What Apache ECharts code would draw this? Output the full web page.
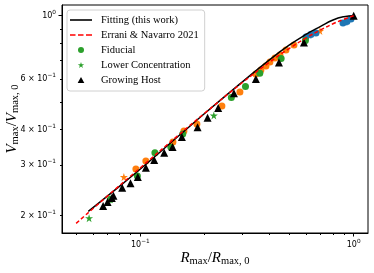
<!DOCTYPE html>
<html><head><meta charset="utf-8">
<script src="https://cdn.jsdelivr.net/npm/echarts@6/dist/echarts.min.js"></script>
<style>html,body{margin:0;padding:0;background:#fff}#c{width:374px;height:273px}</style>
</head><body><div id="c"></div><script>
// ---- data ----
const fitR = [0.057, 0.07, 0.1, 0.15, 0.2, 0.3, 0.4, 0.5, 0.6, 0.7, 0.8, 0.9, 1.0];
const fitV = [0.207, 0.234, 0.291, 0.378, 0.455, 0.586, 0.698, 0.79, 0.862, 0.918, 0.966, 0.992, 1.0];
const enR = [0.05, 0.07, 0.1, 0.15, 0.2, 0.3, 0.4, 0.5, 0.6, 0.7, 0.8, 0.9, 1.0];
const enV = [0.188, 0.234, 0.294, 0.381, 0.456, 0.583, 0.685, 0.769, 0.837, 0.892, 0.937, 0.972, 1.0];
const fidR = [0.0725, 0.0968, 0.117, 0.139, 0.158, 0.267, 0.311, 0.363, 0.457, 0.594];
const fidV = [0.228, 0.275, 0.332, 0.347, 0.386, 0.518, 0.566, 0.629, 0.709, 0.819];
const lowR = [0.0575, 0.0723, 0.221];
const lowV = [0.196, 0.228, 0.448];
const growR = [0.0669, 0.0702, 0.0735, 0.0748, 0.0822, 0.0899, 0.0973, 0.1061, 0.1161, 0.1293, 0.1416, 0.1565, 0.1854, 0.2066, 0.2317, 0.2746, 0.3479, 0.4463, 0.5846, 1.0];
const growV = [0.216, 0.223, 0.2305, 0.2348, 0.2504, 0.2594, 0.2729, 0.294, 0.313, 0.3319, 0.3474, 0.3765, 0.4073, 0.4398, 0.4757, 0.5354, 0.6006, 0.686, 0.8058, 1.0];
const orCircR = [0.0953, 0.1061, 0.1421, 0.16, 0.1841, 0.2411, 0.2929, 0.3479, 0.3673, 0.3879, 0.4049, 0.4275, 0.4512, 0.4814, 0.5248];
const orCircV = [0.2911, 0.3104, 0.3618, 0.3953, 0.4182, 0.4834, 0.541, 0.6254, 0.6458, 0.667, 0.6889, 0.7113, 0.7288, 0.7587, 0.79];
const orStarR = [0.0837, 0.695];
const orStarV = [0.2729, 0.8841];
const blCircR = [0.5975, 0.6305, 0.6655, 0.891, 0.93, 0.971];
const blCircV = [0.8423, 0.8597, 0.87, 0.943, 0.9544, 0.9738];
const blStarR = [0.617, 0.91];
const blStarV = [0.856, 0.95];
const xRange = [0.04292, 1.167];
const yRange = [0.1739, 1.090];
const xMajorTicks = [0.1, 1];
const xMinorTicks = [0.05, 0.06, 0.07, 0.08, 0.09, 0.2, 0.3, 0.4, 0.5, 0.6, 0.7, 0.8, 0.9];
const yMajorTicks = [1];
const yMinorTicks = [0.2, 0.3, 0.4, 0.5, 0.6, 0.7, 0.8, 0.9];
const yLabelTicks = [0.2, 0.3, 0.4, 0.6, 1];

const L = v => Math.log10(v);
const pts = (xs, ys) => xs.map((x, i) => [L(x), L(ys[i])]);
const STAR = 'path://M0,-100L22.45,-30.9L95.1,-30.9L36.3,11.8L58.8,80.9L0,38.2L-58.8,80.9L-36.3,11.8L-95.1,-30.9L-22.45,-30.9Z';
const ICON_SOLID = 'path://M0,0h22v1.6h-22z';
const ICON_DASH = 'path://M0,0h5.5v1.6h-5.5zM8,0h5.5v1.6h-5.5zM16,0h6v1.6h-6z';
const ICON_TRI = 'path://M5,0L10,9L0,9Z';

function fmtLog(v) {
  const e = Math.floor(v + 1e-6);
  const m = Math.round(Math.pow(10, v - e));
  const ex = e < 0 ? '\u2212' + (-e) : '' + e;
  if (m === 1 || m === 10) return '{b|10}{s|' + (m === 10 ? e + 1 : ex) + '}';
  return '{b|' + m + ' \u00d7 10}{s|' + ex + '}';
}
const tickRich = {
  b: { fontFamily: 'DejaVu Sans', fontSize: 8, color: '#000', lineHeight: 13 },
  s: { fontFamily: 'DejaVu Sans', fontSize: 5.8, color: '#000', lineHeight: 6, verticalAlign: 'top' }
};
const nameRich = {
  i: { fontFamily: 'Liberation Serif', fontStyle: 'italic', fontSize: 15, color: '#000', lineHeight: 17 },
  n: { fontFamily: 'Liberation Serif', fontSize: 15, color: '#000', lineHeight: 17 },
  s: { fontFamily: 'Liberation Serif', fontSize: 10.5, color: '#000', lineHeight: 10, verticalAlign: 'bottom' }
};
const axLine = { show: true, onZero: false, lineStyle: { color: '#000', width: 1 } };
const mk = c => ({ color: c, opacity: 1 });

const chart = echarts.init(document.getElementById('c'), null, { renderer: 'canvas' });
chart.setOption({
  animation: false,
  backgroundColor: '#fff',
  grid: { left: 62, top: 5, right: 6, bottom: 40, show: true, borderColor: '#000', borderWidth: 1, outerBoundsMode: 'none' },
  xAxis: [
    { type: 'value', min: L(xRange[0]), max: L(xRange[1]), position: 'bottom',
      axisLine: axLine,
      axisTick: { show: true, length: 3.5, customValues: xMajorTicks.map(L), lineStyle: { color: '#000', width: 1 } },
      axisLabel: { customValues: xMajorTicks.map(L), formatter: fmtLog, rich: tickRich, margin: 5 },
      splitLine: { show: false },
      name: '{i|R}{s|max}{n|/}{i|R}{s|max, 0}', nameLocation: 'middle', nameGap: 17, nameMoveOverlap: false,
      nameTextStyle: { rich: nameRich } },
    { type: 'value', min: L(xRange[0]), max: L(xRange[1]), position: 'bottom',
      axisLine: { show: false, onZero: false },
      axisTick: { show: true, length: 2, customValues: xMinorTicks.map(L), lineStyle: { color: '#000', width: 1 } },
      axisLabel: { show: false }, splitLine: { show: false } }
  ],
  yAxis: [
    { type: 'value', min: L(yRange[0]), max: L(yRange[1]), position: 'left',
      axisLine: axLine,
      axisTick: { show: true, length: 3.5, customValues: yMajorTicks.map(L), lineStyle: { color: '#000', width: 1 } },
      axisLabel: { customValues: yLabelTicks.map(L), formatter: fmtLog, rich: tickRich, margin: 6 },
      splitLine: { show: false },
      name: '{i|V}{s|max}{n|/}{i|V}{s|max, 0}', nameLocation: 'middle', nameGap: 41, nameMoveOverlap: false,
      nameTextStyle: { rich: nameRich } },
    { type: 'value', min: L(yRange[0]), max: L(yRange[1]), position: 'left',
      axisLine: { show: false, onZero: false },
      axisTick: { show: true, length: 2, customValues: yMinorTicks.map(L), lineStyle: { color: '#000', width: 1 } },
      axisLabel: { show: false }, splitLine: { show: false } }
  ],
  legend: {
    left: 67, top: 10, orient: 'vertical', itemWidth: 22, itemHeight: 6, itemGap: 3, symbolKeepAspect: true,
    padding: [4, 6, 5, 3], backgroundColor: 'rgba(255,255,255,0.85)', borderColor: '#d0d0d0', borderWidth: 1, borderRadius: 3,
    textStyle: { fontFamily: 'Liberation Serif', fontSize: 10.5, color: '#000', lineHeight: 12, padding: [0, 0, 0, 4] },
    data: [
      { name: 'Fitting (this work)', icon: ICON_SOLID },
      { name: 'Errani & Navarro 2021', icon: ICON_DASH },
      'Fiducial', 'Lower Concentration',
      { name: 'Growing Host', icon: ICON_TRI }]
  },
  series: [
    { name: 'orange-c', type: 'scatter', symbol: 'circle', symbolSize: 7, itemStyle: mk('#ff7f0e'), data: pts(orCircR, orCircV), z: 2 },
    { name: 'orange-s', type: 'scatter', symbol: STAR, symbolSize: 8, itemStyle: mk('#ff7f0e'), data: pts(orStarR, orStarV), z: 2 },
    { name: 'blue-c', type: 'scatter', symbol: 'circle', symbolSize: 7, itemStyle: mk('#1f77b4'), data: pts(blCircR, blCircV), z: 2 },
    { name: 'blue-s', type: 'scatter', symbol: STAR, symbolSize: 8, itemStyle: mk('#1f77b4'), data: pts(blStarR, blStarV), z: 2 },
    { name: 'Fiducial', type: 'scatter', symbol: 'circle', symbolSize: 7, itemStyle: mk('#2ca02c'), data: pts(fidR, fidV), z: 3 },
    { name: 'Lower Concentration', type: 'scatter', symbol: STAR, symbolSize: 8, itemStyle: mk('#2ca02c'), data: pts(lowR, lowV), z: 3 },
    { name: 'Growing Host', type: 'scatter', symbol: 'triangle', symbolSize: 8, itemStyle: mk('#000'), data: pts(growR, growV), z: 4 },
    { name: 'Fitting (this work)', type: 'line', symbol: 'none', smooth: true, lineStyle: { color: '#000', width: 1.5 }, itemStyle: { color: '#000' }, data: pts(fitR, fitV), z: 5 },
    { name: 'Errani & Navarro 2021', type: 'line', symbol: 'none', smooth: true, lineStyle: { color: '#ff0000', width: 1.5, type: [4, 2.5] }, itemStyle: { color: '#ff0000' }, data: pts(enR, enV), z: 6 }
  ]
});
</script></body></html>
